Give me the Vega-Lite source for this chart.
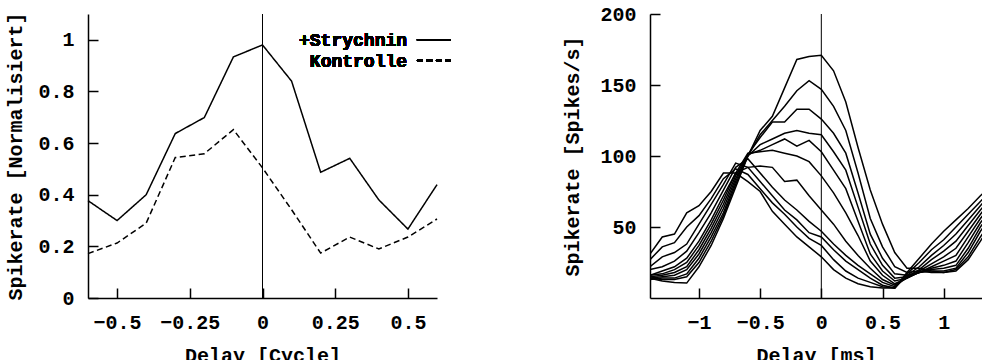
{
 "$schema": "https://vega.github.io/schema/vega-lite/v6.json",
 "background": "white",
 "padding": {"left": 5, "top": 4, "right": 0, "bottom": 0},
 "spacing": 213,
 "bounds": "flush",
 "config": {
  "view": {"stroke": null},
  "font": "Liberation Mono",
  "axis": {"domainColor": "black", "domainWidth": 1.5, "ticks": true, "tickColor": "black", "tickWidth": 1.5, "tickSize": -10,
   "labelFont": "Liberation Mono", "labelFontSize": 20, "labelFontWeight": "bold", "labelColor": "black", "labelPadding": 24,
   "titleFont": "Liberation Mono", "titleFontSize": 20, "titleFontWeight": "bold", "titleColor": "black",
   "grid": false, "labelFlush": false, "labelOverlap": false},
  "axisX": {"titlePadding": 13},
  "axisY": {"titlePadding": 12}
 },
 "datasets": {
  "left": [
   {"cond": "+Strychnin", "delay": -0.6, "rate": 0.377},
   {"cond": "+Strychnin", "delay": -0.5, "rate": 0.30},
   {"cond": "+Strychnin", "delay": -0.4, "rate": 0.40},
   {"cond": "+Strychnin", "delay": -0.3, "rate": 0.637},
   {"cond": "+Strychnin", "delay": -0.2, "rate": 0.699},
   {"cond": "+Strychnin", "delay": -0.1, "rate": 0.934},
   {"cond": "+Strychnin", "delay": 0, "rate": 0.98},
   {"cond": "+Strychnin", "delay": 0.1, "rate": 0.84},
   {"cond": "+Strychnin", "delay": 0.2, "rate": 0.487},
   {"cond": "+Strychnin", "delay": 0.3, "rate": 0.541},
   {"cond": "+Strychnin", "delay": 0.4, "rate": 0.38},
   {"cond": "+Strychnin", "delay": 0.5, "rate": 0.267},
   {"cond": "+Strychnin", "delay": 0.6, "rate": 0.439},
   {"cond": "Kontrolle", "delay": -0.6, "rate": 0.172},
   {"cond": "Kontrolle", "delay": -0.5, "rate": 0.213},
   {"cond": "Kontrolle", "delay": -0.4, "rate": 0.29},
   {"cond": "Kontrolle", "delay": -0.3, "rate": 0.544},
   {"cond": "Kontrolle", "delay": -0.2, "rate": 0.559},
   {"cond": "Kontrolle", "delay": -0.1, "rate": 0.652},
   {"cond": "Kontrolle", "delay": 0, "rate": 0.504},
   {"cond": "Kontrolle", "delay": 0.1, "rate": 0.342},
   {"cond": "Kontrolle", "delay": 0.2, "rate": 0.174},
   {"cond": "Kontrolle", "delay": 0.3, "rate": 0.236},
   {"cond": "Kontrolle", "delay": 0.4, "rate": 0.19},
   {"cond": "Kontrolle", "delay": 0.5, "rate": 0.236},
   {"cond": "Kontrolle", "delay": 0.6, "rate": 0.306}
  ],
  "right": [
   {"curve":"A","delay":-1.4,"rate":14},{"curve":"A","delay":-1.3,"rate":12},{"curve":"A","delay":-1.2,"rate":11},{"curve":"A","delay":-1.1,"rate":10.5},{"curve":"A","delay":-1,"rate":22},{"curve":"A","delay":-0.9,"rate":37},{"curve":"A","delay":-0.8,"rate":56},{"curve":"A","delay":-0.7,"rate":78},{"curve":"A","delay":-0.6,"rate":100},{"curve":"A","delay":-0.5,"rate":118},{"curve":"A","delay":-0.4,"rate":128},{"curve":"A","delay":-0.3,"rate":148},{"curve":"A","delay":-0.2,"rate":168},{"curve":"A","delay":-0.1,"rate":170},{"curve":"A","delay":0,"rate":171},{"curve":"A","delay":0.1,"rate":160},{"curve":"A","delay":0.2,"rate":138},{"curve":"A","delay":0.3,"rate":106},{"curve":"A","delay":0.4,"rate":76},{"curve":"A","delay":0.5,"rate":52},{"curve":"A","delay":0.6,"rate":32},{"curve":"A","delay":0.7,"rate":21},{"curve":"A","delay":0.8,"rate":21},{"curve":"A","delay":0.9,"rate":19},{"curve":"A","delay":1,"rate":18},{"curve":"A","delay":1.1,"rate":19},{"curve":"A","delay":1.2,"rate":27},{"curve":"A","delay":1.3,"rate":40},{"curve":"A","delay":1.4,"rate":54},
   {"curve":"B","delay":-1.4,"rate":14},{"curve":"B","delay":-1.3,"rate":13},{"curve":"B","delay":-1.2,"rate":13},{"curve":"B","delay":-1.1,"rate":15},{"curve":"B","delay":-1,"rate":25},{"curve":"B","delay":-0.9,"rate":40},{"curve":"B","delay":-0.8,"rate":58},{"curve":"B","delay":-0.7,"rate":80},{"curve":"B","delay":-0.6,"rate":100},{"curve":"B","delay":-0.5,"rate":115},{"curve":"B","delay":-0.4,"rate":125},{"curve":"B","delay":-0.3,"rate":135},{"curve":"B","delay":-0.2,"rate":146},{"curve":"B","delay":-0.1,"rate":153},{"curve":"B","delay":0,"rate":147},{"curve":"B","delay":0.1,"rate":135},{"curve":"B","delay":0.2,"rate":118},{"curve":"B","delay":0.3,"rate":88},{"curve":"B","delay":0.4,"rate":56},{"curve":"B","delay":0.5,"rate":36},{"curve":"B","delay":0.6,"rate":22},{"curve":"B","delay":0.7,"rate":18},{"curve":"B","delay":0.8,"rate":19},{"curve":"B","delay":0.9,"rate":18},{"curve":"B","delay":1,"rate":18},{"curve":"B","delay":1.1,"rate":20},{"curve":"B","delay":1.2,"rate":29},{"curve":"B","delay":1.3,"rate":43},{"curve":"B","delay":1.4,"rate":56},
   {"curve":"C","delay":-1.4,"rate":13},{"curve":"C","delay":-1.3,"rate":14},{"curve":"C","delay":-1.2,"rate":14},{"curve":"C","delay":-1.1,"rate":17},{"curve":"C","delay":-1,"rate":28},{"curve":"C","delay":-0.9,"rate":43},{"curve":"C","delay":-0.8,"rate":60},{"curve":"C","delay":-0.7,"rate":82},{"curve":"C","delay":-0.6,"rate":101},{"curve":"C","delay":-0.5,"rate":113},{"curve":"C","delay":-0.4,"rate":124},{"curve":"C","delay":-0.3,"rate":124},{"curve":"C","delay":-0.2,"rate":133},{"curve":"C","delay":-0.1,"rate":133},{"curve":"C","delay":0,"rate":126},{"curve":"C","delay":0.1,"rate":116},{"curve":"C","delay":0.2,"rate":102},{"curve":"C","delay":0.3,"rate":74},{"curve":"C","delay":0.4,"rate":45},{"curve":"C","delay":0.5,"rate":28},{"curve":"C","delay":0.6,"rate":17},{"curve":"C","delay":0.7,"rate":16},{"curve":"C","delay":0.8,"rate":18},{"curve":"C","delay":0.9,"rate":19},{"curve":"C","delay":1,"rate":19},{"curve":"C","delay":1.1,"rate":21},{"curve":"C","delay":1.2,"rate":32},{"curve":"C","delay":1.3,"rate":47},{"curve":"C","delay":1.4,"rate":59},
   {"curve":"D","delay":-1.4,"rate":14},{"curve":"D","delay":-1.3,"rate":15},{"curve":"D","delay":-1.2,"rate":16},{"curve":"D","delay":-1.1,"rate":20},{"curve":"D","delay":-1,"rate":31},{"curve":"D","delay":-0.9,"rate":46},{"curve":"D","delay":-0.8,"rate":63},{"curve":"D","delay":-0.7,"rate":84},{"curve":"D","delay":-0.6,"rate":100},{"curve":"D","delay":-0.5,"rate":108},{"curve":"D","delay":-0.4,"rate":112},{"curve":"D","delay":-0.3,"rate":116},{"curve":"D","delay":-0.2,"rate":118},{"curve":"D","delay":-0.1,"rate":116},{"curve":"D","delay":0,"rate":115},{"curve":"D","delay":0.1,"rate":103},{"curve":"D","delay":0.2,"rate":90},{"curve":"D","delay":0.3,"rate":64},{"curve":"D","delay":0.4,"rate":38},{"curve":"D","delay":0.5,"rate":23},{"curve":"D","delay":0.6,"rate":14},{"curve":"D","delay":0.7,"rate":15},{"curve":"D","delay":0.8,"rate":18},{"curve":"D","delay":0.9,"rate":20},{"curve":"D","delay":1,"rate":21},{"curve":"D","delay":1.1,"rate":23},{"curve":"D","delay":1.2,"rate":35},{"curve":"D","delay":1.3,"rate":50},{"curve":"D","delay":1.4,"rate":62},
   {"curve":"E","delay":-1.4,"rate":15},{"curve":"E","delay":-1.3,"rate":16},{"curve":"E","delay":-1.2,"rate":18},{"curve":"E","delay":-1.1,"rate":22},{"curve":"E","delay":-1,"rate":34},{"curve":"E","delay":-0.9,"rate":49},{"curve":"E","delay":-0.8,"rate":66},{"curve":"E","delay":-0.7,"rate":86},{"curve":"E","delay":-0.6,"rate":101},{"curve":"E","delay":-0.5,"rate":104},{"curve":"E","delay":-0.4,"rate":108},{"curve":"E","delay":-0.3,"rate":112},{"curve":"E","delay":-0.2,"rate":107},{"curve":"E","delay":-0.1,"rate":111},{"curve":"E","delay":0,"rate":103},{"curve":"E","delay":0.1,"rate":90},{"curve":"E","delay":0.2,"rate":77},{"curve":"E","delay":0.3,"rate":54},{"curve":"E","delay":0.4,"rate":31},{"curve":"E","delay":0.5,"rate":19},{"curve":"E","delay":0.6,"rate":12},{"curve":"E","delay":0.7,"rate":14},{"curve":"E","delay":0.8,"rate":18},{"curve":"E","delay":0.9,"rate":21},{"curve":"E","delay":1,"rate":23},{"curve":"E","delay":1.1,"rate":26},{"curve":"E","delay":1.2,"rate":39},{"curve":"E","delay":1.3,"rate":53},{"curve":"E","delay":1.4,"rate":64},
   {"curve":"F","delay":-1.4,"rate":16},{"curve":"F","delay":-1.3,"rate":17},{"curve":"F","delay":-1.2,"rate":20},{"curve":"F","delay":-1.1,"rate":25},{"curve":"F","delay":-1,"rate":37},{"curve":"F","delay":-0.9,"rate":52},{"curve":"F","delay":-0.8,"rate":69},{"curve":"F","delay":-0.7,"rate":88},{"curve":"F","delay":-0.6,"rate":102},{"curve":"F","delay":-0.5,"rate":103},{"curve":"F","delay":-0.4,"rate":104},{"curve":"F","delay":-0.3,"rate":102},{"curve":"F","delay":-0.2,"rate":100},{"curve":"F","delay":-0.1,"rate":96},{"curve":"F","delay":0,"rate":86},{"curve":"F","delay":0.1,"rate":74},{"curve":"F","delay":0.2,"rate":60},{"curve":"F","delay":0.3,"rate":44},{"curve":"F","delay":0.4,"rate":26},{"curve":"F","delay":0.5,"rate":16},{"curve":"F","delay":0.6,"rate":10},{"curve":"F","delay":0.7,"rate":14},{"curve":"F","delay":0.8,"rate":18},{"curve":"F","delay":0.9,"rate":22},{"curve":"F","delay":1,"rate":26},{"curve":"F","delay":1.1,"rate":30},{"curve":"F","delay":1.2,"rate":43},{"curve":"F","delay":1.3,"rate":56},{"curve":"F","delay":1.4,"rate":67},
   {"curve":"G","delay":-1.4,"rate":16},{"curve":"G","delay":-1.3,"rate":19},{"curve":"G","delay":-1.2,"rate":22},{"curve":"G","delay":-1.1,"rate":28},{"curve":"G","delay":-1,"rate":40},{"curve":"G","delay":-0.9,"rate":55},{"curve":"G","delay":-0.8,"rate":72},{"curve":"G","delay":-0.7,"rate":88},{"curve":"G","delay":-0.6,"rate":92},{"curve":"G","delay":-0.5,"rate":93},{"curve":"G","delay":-0.4,"rate":92},{"curve":"G","delay":-0.3,"rate":82},{"curve":"G","delay":-0.2,"rate":83},{"curve":"G","delay":-0.1,"rate":72},{"curve":"G","delay":0,"rate":62},{"curve":"G","delay":0.1,"rate":52},{"curve":"G","delay":0.2,"rate":40},{"curve":"G","delay":0.3,"rate":30},{"curve":"G","delay":0.4,"rate":21},{"curve":"G","delay":0.5,"rate":13},{"curve":"G","delay":0.6,"rate":9},{"curve":"G","delay":0.7,"rate":14},{"curve":"G","delay":0.8,"rate":19},{"curve":"G","delay":0.9,"rate":24},{"curve":"G","delay":1,"rate":29},{"curve":"G","delay":1.1,"rate":35},{"curve":"G","delay":1.2,"rate":47},{"curve":"G","delay":1.3,"rate":59},{"curve":"G","delay":1.4,"rate":70},
   {"curve":"H","delay":-1.4,"rate":20},{"curve":"H","delay":-1.3,"rate":22},{"curve":"H","delay":-1.2,"rate":26},{"curve":"H","delay":-1.1,"rate":33},{"curve":"H","delay":-1,"rate":46},{"curve":"H","delay":-0.9,"rate":60},{"curve":"H","delay":-0.8,"rate":76},{"curve":"H","delay":-0.7,"rate":92},{"curve":"H","delay":-0.6,"rate":98},{"curve":"H","delay":-0.5,"rate":88},{"curve":"H","delay":-0.4,"rate":78},{"curve":"H","delay":-0.3,"rate":69},{"curve":"H","delay":-0.2,"rate":62},{"curve":"H","delay":-0.1,"rate":54},{"curve":"H","delay":0,"rate":47},{"curve":"H","delay":0.1,"rate":38},{"curve":"H","delay":0.2,"rate":30},{"curve":"H","delay":0.3,"rate":23},{"curve":"H","delay":0.4,"rate":17},{"curve":"H","delay":0.5,"rate":11},{"curve":"H","delay":0.6,"rate":8},{"curve":"H","delay":0.7,"rate":15},{"curve":"H","delay":0.8,"rate":20},{"curve":"H","delay":0.9,"rate":27},{"curve":"H","delay":1,"rate":33},{"curve":"H","delay":1.1,"rate":40},{"curve":"H","delay":1.2,"rate":51},{"curve":"H","delay":1.3,"rate":62},{"curve":"H","delay":1.4,"rate":72},
   {"curve":"I","delay":-1.4,"rate":22},{"curve":"I","delay":-1.3,"rate":29},{"curve":"I","delay":-1.2,"rate":32},{"curve":"I","delay":-1.1,"rate":38},{"curve":"I","delay":-1,"rate":52},{"curve":"I","delay":-0.9,"rate":66},{"curve":"I","delay":-0.8,"rate":80},{"curve":"I","delay":-0.7,"rate":95},{"curve":"I","delay":-0.6,"rate":92},{"curve":"I","delay":-0.5,"rate":82},{"curve":"I","delay":-0.4,"rate":72},{"curve":"I","delay":-0.3,"rate":62},{"curve":"I","delay":-0.2,"rate":55},{"curve":"I","delay":-0.1,"rate":46},{"curve":"I","delay":0,"rate":43},{"curve":"I","delay":0.1,"rate":34},{"curve":"I","delay":0.2,"rate":26},{"curve":"I","delay":0.3,"rate":20},{"curve":"I","delay":0.4,"rate":14},{"curve":"I","delay":0.5,"rate":9},{"curve":"I","delay":0.6,"rate":7},{"curve":"I","delay":0.7,"rate":16},{"curve":"I","delay":0.8,"rate":22},{"curve":"I","delay":0.9,"rate":30},{"curve":"I","delay":1,"rate":37},{"curve":"I","delay":1.1,"rate":45},{"curve":"I","delay":1.2,"rate":55},{"curve":"I","delay":1.3,"rate":65},{"curve":"I","delay":1.4,"rate":75},
   {"curve":"J","delay":-1.4,"rate":27},{"curve":"J","delay":-1.3,"rate":36},{"curve":"J","delay":-1.2,"rate":39},{"curve":"J","delay":-1.1,"rate":50},{"curve":"J","delay":-1,"rate":58},{"curve":"J","delay":-0.9,"rate":70},{"curve":"J","delay":-0.8,"rate":84},{"curve":"J","delay":-0.7,"rate":91},{"curve":"J","delay":-0.6,"rate":87},{"curve":"J","delay":-0.5,"rate":77},{"curve":"J","delay":-0.4,"rate":67},{"curve":"J","delay":-0.3,"rate":59},{"curve":"J","delay":-0.2,"rate":50},{"curve":"J","delay":-0.1,"rate":42},{"curve":"J","delay":0,"rate":37},{"curve":"J","delay":0.1,"rate":27},{"curve":"J","delay":0.2,"rate":19},{"curve":"J","delay":0.3,"rate":14},{"curve":"J","delay":0.4,"rate":11},{"curve":"J","delay":0.5,"rate":8},{"curve":"J","delay":0.6,"rate":7},{"curve":"J","delay":0.7,"rate":17},{"curve":"J","delay":0.8,"rate":25},{"curve":"J","delay":0.9,"rate":34},{"curve":"J","delay":1,"rate":41},{"curve":"J","delay":1.1,"rate":50},{"curve":"J","delay":1.2,"rate":59},{"curve":"J","delay":1.3,"rate":68},{"curve":"J","delay":1.4,"rate":77},
   {"curve":"K","delay":-1.4,"rate":31},{"curve":"K","delay":-1.3,"rate":43},{"curve":"K","delay":-1.2,"rate":45},{"curve":"K","delay":-1.1,"rate":60},{"curve":"K","delay":-1,"rate":65},{"curve":"K","delay":-0.9,"rate":75},{"curve":"K","delay":-0.8,"rate":88},{"curve":"K","delay":-0.7,"rate":88},{"curve":"K","delay":-0.6,"rate":82},{"curve":"K","delay":-0.5,"rate":75},{"curve":"K","delay":-0.4,"rate":61},{"curve":"K","delay":-0.3,"rate":52},{"curve":"K","delay":-0.2,"rate":43},{"curve":"K","delay":-0.1,"rate":36},{"curve":"K","delay":0,"rate":29},{"curve":"K","delay":0.1,"rate":20},{"curve":"K","delay":0.2,"rate":14},{"curve":"K","delay":0.3,"rate":10},{"curve":"K","delay":0.4,"rate":8},{"curve":"K","delay":0.5,"rate":7},{"curve":"K","delay":0.6,"rate":7},{"curve":"K","delay":0.7,"rate":18},{"curve":"K","delay":0.8,"rate":28},{"curve":"K","delay":0.9,"rate":38},{"curve":"K","delay":1,"rate":47},{"curve":"K","delay":1.1,"rate":55},{"curve":"K","delay":1.2,"rate":63},{"curve":"K","delay":1.3,"rate":72},{"curve":"K","delay":1.4,"rate":80}
  ]
 },
 "hconcat": [
  {
   "width": 349, "height": 284,
   "data": {"name": "left"},
   "encoding": {
    "x": {"field": "delay", "type": "quantitative", "title": "Delay [Cycle]",
     "scale": {"domain": [-0.6, 0.6], "nice": false, "zero": false},
     "axis": {"values": [-0.5, -0.25, 0, 0.25, 0.5], "format": ".4~g"}}
   },
   "layer": [
    {
     "mark": {"type": "line", "color": "black", "strokeWidth": 1.5},
     "encoding": {
      "y": {"field": "rate", "type": "quantitative", "title": "Spikerate [Normalisiert]",
       "scale": {"domain": [0, 1.1], "nice": false},
       "axis": {"values": [0, 0.2, 0.4, 0.6, 0.8, 1], "format": ".4~g"}},
      "strokeDash": {"field": "cond", "type": "nominal",
       "scale": {"domain": ["+Strychnin", "Kontrolle"], "range": [[1, 0], [6, 3.5]]},
       "legend": null}
     }
    },
    {
     "transform": [{"filter": "datum.delay === 0 && datum.cond === 'Kontrolle'"}],
     "mark": {"type": "rule", "color": "black", "strokeWidth": 1},
     "encoding": {}
    },
    {
     "mark": {"type": "text", "align": "right", "baseline": "middle", "font": "Liberation Mono", "fontWeight": "bold", "fontSize": 18, "color": "black"},
     "encoding": {"x": {"datum": 0.497, "type": "quantitative"}, "y": {"datum": 0.995, "type": "quantitative"}, "text": {"value": "+Strychnin"}}
    },
    {
     "mark": {"type": "text", "align": "right", "baseline": "middle", "font": "Liberation Mono", "fontWeight": "bold", "fontSize": 18, "color": "black"},
     "encoding": {"x": {"datum": 0.497, "type": "quantitative"}, "y": {"datum": 0.916, "type": "quantitative"}, "text": {"value": "Kontrolle"}}
    },
    {
     "mark": {"type": "rule", "color": "black", "strokeWidth": 1.5},
     "encoding": {"x": {"datum": 0.531, "type": "quantitative"}, "x2": {"datum": 0.648}, "y": {"datum": 1.0, "type": "quantitative"}}
    },
    {
     "mark": {"type": "rule", "color": "black", "strokeWidth": 1.5, "strokeDash": [6, 3.5]},
     "encoding": {"x": {"datum": 0.531, "type": "quantitative"}, "x2": {"datum": 0.648}, "y": {"datum": 0.92, "type": "quantitative"}}
    }
   ]
  },
  {
   "width": 332, "height": 284,
   "data": {"name": "right"},
   "encoding": {
    "x": {"field": "delay", "type": "quantitative", "title": "Delay [ms]",
     "scale": {"domain": [-1.4, 1.313], "nice": false, "zero": false},
     "axis": {"values": [-1, -0.5, 0, 0.5, 1], "format": ".4~g"}}
   },
   "layer": [
    {
     "mark": {"type": "line", "color": "black", "strokeWidth": 1.5, "clip": true},
     "encoding": {
      "y": {"field": "rate", "type": "quantitative", "title": "Spikerate [Spikes/s]",
       "scale": {"domain": [0, 200], "nice": false},
       "axis": {"values": [50, 100, 150, 200], "format": ".4~g", "titlePadding": 17}},
      "detail": {"field": "curve", "type": "nominal"}
     }
    },
    {
     "transform": [{"filter": "datum.delay === 0 && datum.curve === 'A'"}],
     "mark": {"type": "rule", "color": "black", "strokeWidth": 1},
     "encoding": {}
    }
   ]
  }
 ]
}
